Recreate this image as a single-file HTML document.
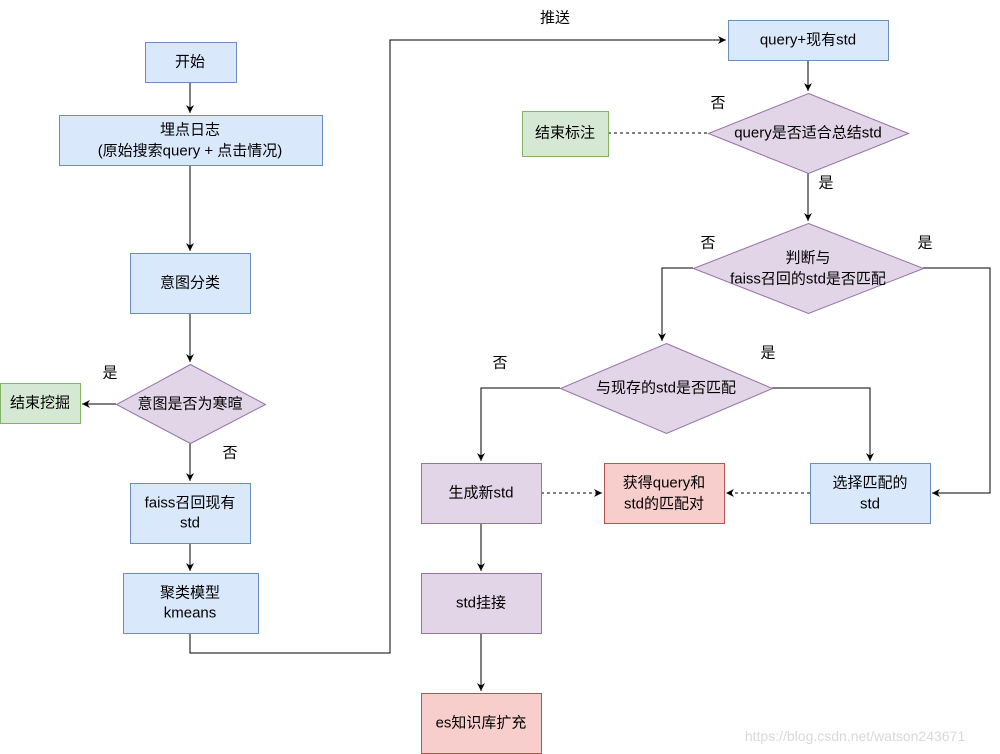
<!DOCTYPE html>
<html><head><meta charset="utf-8"><style>
html,body{margin:0;padding:0;background:#fff;}
svg{display:block;}
text{font-family:"Liberation Sans","Noto Sans CJK SC",sans-serif;font-size:15px;fill:#000;text-anchor:middle;dominant-baseline:central;}
</style></head><body>
<svg width="1000" height="754" viewBox="0 0 1000 754" xmlns="http://www.w3.org/2000/svg">
<defs>
<marker id="a" markerWidth="10" markerHeight="10" refX="8" refY="5" orient="auto" markerUnits="userSpaceOnUse">
<path d="M0,1 L8,5 L0,9 L2.5,5 Z" fill="#000"/></marker>
</defs>
<g fill="none" stroke="#000" stroke-width="1">
<path d="M190,82 V113" marker-end="url(#a)"/>
<path d="M190,165 V251" marker-end="url(#a)"/>
<path d="M190,313 V362" marker-end="url(#a)"/>
<path d="M116,404 H82" marker-end="url(#a)"/>
<path d="M190,443 V481" marker-end="url(#a)"/>
<path d="M190,543 V571" marker-end="url(#a)"/>
<path d="M190,633 V653 H390 V40 H726" marker-end="url(#a)"/>
<path d="M808,60 V91" marker-end="url(#a)"/>
<path d="M608,133 H708" stroke-dasharray="3,3"/>
<path d="M808,173 V221" marker-end="url(#a)"/>
<path d="M693,268 H662 V341" marker-end="url(#a)"/>
<path d="M923,268 H990 V493 H932" marker-end="url(#a)"/>
<path d="M560,388 H481 V461" marker-end="url(#a)"/>
<path d="M772,388 H870 V461" marker-end="url(#a)"/>
<path d="M541,493 H602" stroke-dasharray="3,3" marker-end="url(#a)"/>
<path d="M810,493 H726" stroke-dasharray="3,3" marker-end="url(#a)"/>
<path d="M481,523 V571" marker-end="url(#a)"/>
<path d="M481,633 V691" marker-end="url(#a)"/>
</g>
<g stroke-width="1">
<rect x="145.5" y="42.5" width="91" height="40" fill="#dae8fc" stroke="#6c8ebf"/>
<rect x="59.5" y="115.5" width="263" height="50" fill="#dae8fc" stroke="#6c8ebf"/>
<rect x="130.5" y="253.5" width="120" height="60" fill="#dae8fc" stroke="#6c8ebf"/>
<polygon points="190.5,364.5 265.5,404.5 190.5,443.5 116.5,404.5" fill="#e1d5e7" stroke="#9673a6"/>
<rect x="0.5" y="383.5" width="80" height="40" fill="#d5e8d4" stroke="#82b366"/>
<rect x="130.5" y="483.5" width="120" height="60" fill="#dae8fc" stroke="#6c8ebf"/>
<rect x="123.5" y="573.5" width="135" height="60" fill="#dae8fc" stroke="#6c8ebf"/>
<rect x="728.5" y="20.5" width="160" height="40" fill="#dae8fc" stroke="#6c8ebf"/>
<polygon points="808.5,93.5 908.5,133.5 808.5,173.5 708.5,133.5" fill="#e1d5e7" stroke="#9673a6"/>
<rect x="522.5" y="111.5" width="86" height="45" fill="#d5e8d4" stroke="#82b366"/>
<polygon points="808.5,223.5 923.5,268.5 808.5,313.5 693.5,268.5" fill="#e1d5e7" stroke="#9673a6"/>
<polygon points="666.5,343.5 772.5,388.5 666.5,433.5 560.5,388.5" fill="#e1d5e7" stroke="#9673a6"/>
<rect x="421.5" y="463.5" width="120" height="60" fill="#e1d5e7" stroke="#9673a6"/>
<rect x="604.5" y="463.5" width="120" height="60" fill="#f8cecc" stroke="#b85450"/>
<rect x="810.5" y="463.5" width="120" height="60" fill="#dae8fc" stroke="#6c8ebf"/>
<rect x="421.5" y="573.5" width="120" height="60" fill="#e1d5e7" stroke="#9673a6"/>
<rect x="421.5" y="693.5" width="120" height="60" fill="#f8cecc" stroke="#b85450"/>
</g>
<text x="190" y="62">开始</text>
<text x="190" y="130">埋点日志</text>
<text x="190" y="151">(原始搜索query + 点击情况)</text>
<text x="190" y="283">意图分类</text>
<text x="190" y="404">意图是否为寒暄</text>
<text x="40" y="403">结束挖掘</text>
<text x="110" y="373">是</text>
<text x="230" y="453">否</text>
<text x="190" y="503">faiss召回现有</text>
<text x="190" y="523">std</text>
<text x="190" y="593">聚类模型</text>
<text x="190" y="613">kmeans</text>
<text x="555" y="18">推送</text>
<text x="808" y="40">query+现有std</text>
<text x="808" y="133">query是否适合总结std</text>
<text x="565" y="133">结束标注</text>
<text x="718" y="103">否</text>
<text x="826" y="183">是</text>
<text x="808" y="258">判断与</text>
<text x="808" y="279">faiss召回的std是否匹配</text>
<text x="708" y="243">否</text>
<text x="925" y="243">是</text>
<text x="666" y="388">与现存的std是否匹配</text>
<text x="500" y="363">否</text>
<text x="768" y="353">是</text>
<text x="481" y="493">生成新std</text>
<text x="664" y="483">获得query和</text>
<text x="664" y="504">std的匹配对</text>
<text x="870" y="483">选择匹配的</text>
<text x="870" y="504">std</text>
<text x="481" y="603">std挂接</text>
<text x="481" y="723">es知识库扩充</text>
<text x="855" y="736" style="fill:#d8d8d8;font-size:14px;">https://blog.csdn.net/watson243671</text>
</svg>
</body></html>
